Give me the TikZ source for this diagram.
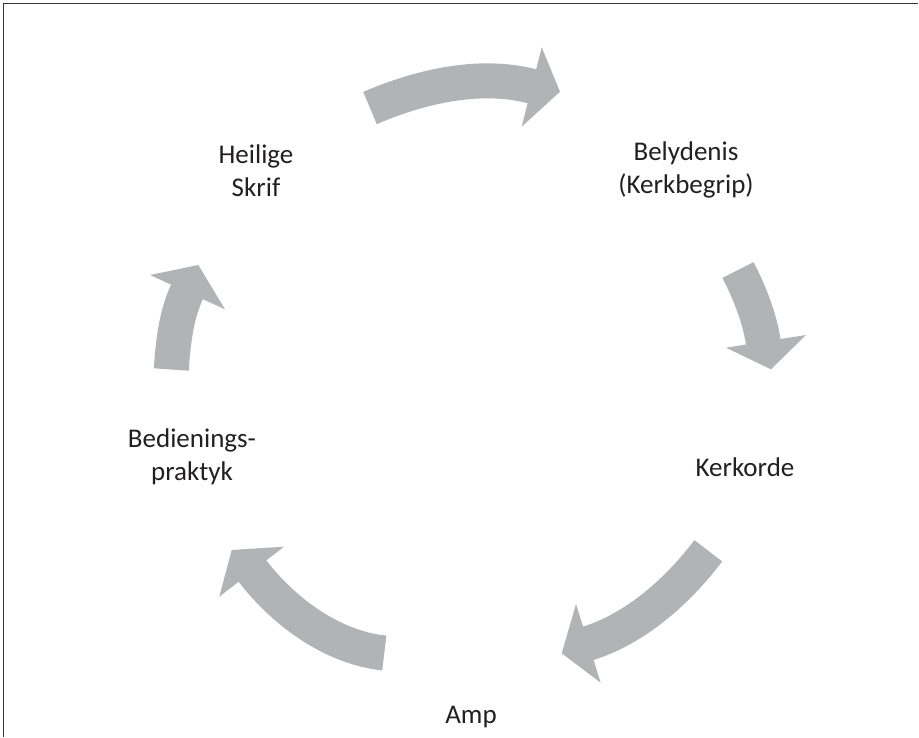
\documentclass[tikz,border=0pt]{standalone}
\usepackage{fontspec}
\setmainfont{Carlito}
\definecolor{arrowgray}{RGB}{178,179,181}
\definecolor{textcol}{RGB}{35,31,32}
\definecolor{framecol}{RGB}{55,55,55}
\begin{document}
\begin{tikzpicture}[x=1pt,y=-1pt,
  lbl/.style={font=\fontsize{27}{33}\selectfont, text=textcol, align=center, inner sep=0pt},
  shaft/.style={draw=arrowgray, line width=35pt, line cap=butt},
  head/.style={fill=arrowgray},
  frame/.style={draw=framecol, line width=1.5pt}]
\useasboundingbox (0,0) rectangle (919,737);
\draw[frame] (3.5,737) -- (3.5,3.5) -- (918,3.5);

% labels
\node[lbl] (skrif) at (256,171) {Heilige\\Skrif};
\node[lbl] (belyd) at (686,170) {Belydenis\\(Kerkbegrip)};
\node[lbl] (kerk) at (745,467) {Kerkorde};
\node[lbl] (amp) at (471,717) {Amp};
\node[lbl] (bed) at (192,457) {Bedienings-\\praktyk};

% arrow 1
\coordinate (a1t) at (370,108);
\coordinate (a1h) at (531,86);
\draw[shaft] (a1t) .. controls (419.6,86.7) and (478.6,72.8) .. (a1h) -- (533,86.5);
\fill[head] (541.7,47.3) -- (560,91.7) -- (521.7,126.7) -- cycle;

% arrow 2
\coordinate (a2t) at (738,270);
\coordinate (a2h) at (763.3,342);
\draw[shaft] (a2t) .. controls (749.5,292.3) and (759.4,317.3) .. (a2h) -- (763.6,344);
\fill[head] (726,347.7) -- (771,369.3) -- (806,335) -- cycle;

% arrow 3
\coordinate (a3t) at (708.3,550.8);
\coordinate (a3h) at (588.3,643.3);
\draw[shaft] (a3t) .. controls (678.1,590.7) and (636,628.3) .. (a3h) -- (586.4,643.9);
\fill[head] (576,604) -- (561.7,653.3) -- (600.7,682.7) -- cycle;

% arrow 4
\coordinate (a4t) at (384.3,653);
\coordinate (a4h) at (252.8,571.5);
\draw[shaft] (a4t) .. controls (333,647.8) and (284.3,612.3) .. (a4h) -- (251.6,569.9);
\fill[head] (284,546.7) -- (231.7,550) -- (219.3,596.7) -- cycle;

% arrow 5
\coordinate (a5t) at (171.3,369.5);
\coordinate (a5h) at (186.7,292.5);
\draw[shaft] (a5t) .. controls (173,343.6) and (175.9,316.1) .. (a5h) -- (187.5,290.7);
\fill[head] (150,275) -- (198.3,265) -- (225,309.3) -- cycle;
\end{tikzpicture}
\end{document}
